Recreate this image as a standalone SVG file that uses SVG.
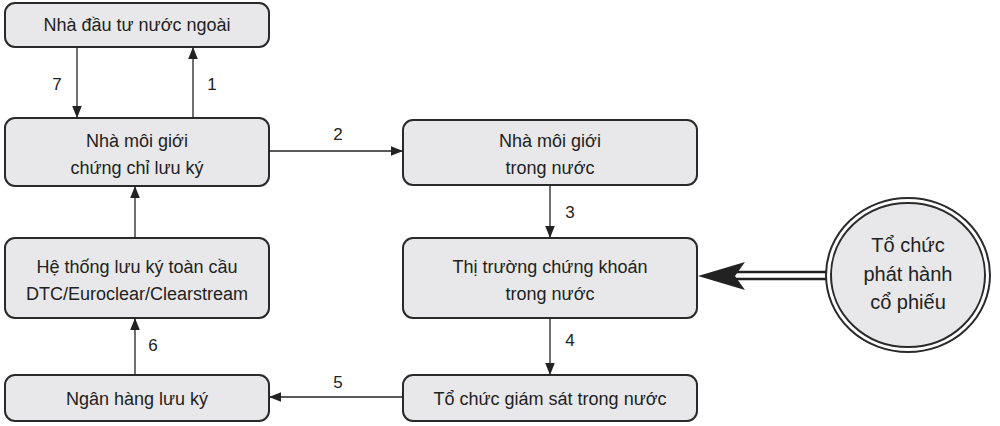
<svg xmlns="http://www.w3.org/2000/svg" width="1000" height="426" viewBox="0 0 1000 426">
<style>
.b{fill:#e8e8ea;stroke:#2a2a2a;stroke-width:2}
.t{font-family:"Liberation Sans",Arial,sans-serif;font-size:18px;fill:#222;text-anchor:middle}
.e{font-family:"Liberation Sans",Arial,sans-serif;font-size:20px;fill:#222;text-anchor:middle}
.l{font-family:"Liberation Sans",Arial,sans-serif;font-size:17px;fill:#222;text-anchor:middle}
.c{stroke:#222;stroke-width:1.3;fill:none;marker-end:url(#a)}
</style>
<defs>
<marker id="a" viewBox="0 0 10 10" refX="10" refY="5" markerWidth="12" markerHeight="12" markerUnits="userSpaceOnUse" orient="auto"><path d="M0,1 L10,5 L0,9 z" fill="#222"/></marker>
</defs>
<rect width="1000" height="426" fill="#fff"/>
<g id="n1"><rect class="b" x="5" y="3" width="264" height="44" rx="10"/><text class="t" x="137" y="31">Nhà đầu tư nước ngoài</text></g>
<g id="n2"><rect class="b" x="5" y="118" width="264" height="68" rx="10"/><text class="t" x="137" y="147">Nhà môi giới</text><text class="t" x="137" y="174">chứng chỉ lưu ký</text></g>
<g id="n3"><rect class="b" x="5" y="238" width="264" height="80" rx="10"/><text class="t" x="137" y="273">Hệ thống lưu ký toàn cầu</text><text class="t" x="137" y="300">DTC/Euroclear/Clearstream</text></g>
<g id="n4"><rect class="b" x="5" y="375" width="264" height="46" rx="10"/><text class="t" x="137" y="405">Ngân hàng lưu ký</text></g>
<g id="n5"><rect class="b" x="403" y="120" width="294" height="65" rx="10"/><text class="t" x="550" y="147">Nhà môi giới</text><text class="t" x="550" y="174">trong nước</text></g>
<g id="n6"><rect class="b" x="403" y="238" width="294" height="80" rx="10"/><text class="t" x="550" y="273">Thị trường chứng khoán</text><text class="t" x="550" y="300">trong nước</text></g>
<g id="n7"><rect class="b" x="403" y="375" width="294" height="46" rx="10"/><text class="t" x="550" y="405">Tổ chức giám sát trong nước</text></g>
<g id="n8"><ellipse cx="908" cy="275" rx="82" ry="77" fill="none" stroke="#2a2a2a" stroke-width="2"/><ellipse cx="908" cy="275" rx="77" ry="72" class="b" stroke-width="1.5"/><text class="e" x="908" y="252">Tổ chức</text><text class="e" x="908" y="281">phát hành</text><text class="e" x="908" y="309">cổ phiếu</text></g>
<g id="edges">
<line class="c" x1="77" y1="47" x2="77" y2="118"/>
<line class="c" x1="193" y1="118" x2="193" y2="47"/>
<line class="c" x1="269" y1="151" x2="403" y2="151"/>
<line class="c" x1="550" y1="185" x2="550" y2="238"/>
<line class="c" x1="550" y1="318" x2="550" y2="375"/>
<line class="c" x1="403" y1="397" x2="269" y2="397"/>
<line class="c" x1="135" y1="375" x2="135" y2="318"/>
<line class="c" x1="135" y1="238" x2="135" y2="186"/>
<line x1="826" y1="272" x2="735" y2="272" stroke="#222" stroke-width="2.5"/>
<line x1="826" y1="279" x2="735" y2="279" stroke="#222" stroke-width="2.5"/>
<path d="M698,276 L745,262 L735,276 L745,290 z" fill="#222"/>
<text class="l" x="57" y="90">7</text>
<text class="l" x="212" y="90">1</text>
<text class="l" x="338" y="140">2</text>
<text class="l" x="570" y="218">3</text>
<text class="l" x="570" y="346">4</text>
<text class="l" x="338" y="388">5</text>
<text class="l" x="153" y="351">6</text>
</g>
</svg>
